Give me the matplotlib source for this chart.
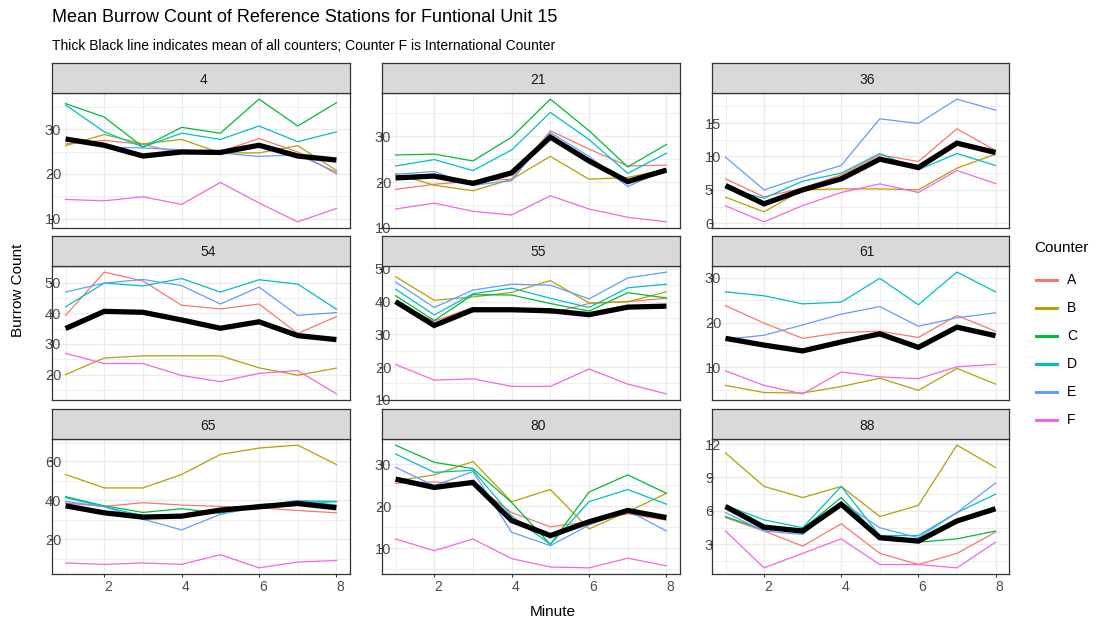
import numpy as np
import matplotlib
matplotlib.use("Agg")
import matplotlib.pyplot as plt
from matplotlib.lines import Line2D

plt.rcParams['font.family'] = ['Liberation Sans', 'DejaVu Sans']

nan = np.nan
minutes = [1, 2, 3, 4, 5, 6, 7, 8]
counters = ["A", "B", "C", "D", "E", "F"]
colors = ["#F8766D", "#B79F00", "#00BA38", "#00BFC4", "#619CFF", "#F564E3"]
stations = [4, 21, 36, 54, 55, 61, 65, 80, 88]

# ---- station 4
st4_A = [26.7, 27.5, 26.6, 24.6, 25.0, 27.9, 24.9, 20.0]
st4_B = [26.3, 28.8, 26.7, 27.7, 24.7, 24.7, 26.3, 20.8]
st4_C = [35.7, 32.7, 26.0, 30.4, 29.1, 36.7, 30.7, 35.9]
st4_D = [35.4, 29.4, 26.0, 29.1, 27.7, 30.7, 27.2, 29.4]
st4_E = [nan, 26.0, 25.8, 25.4, 24.7, 23.9, 24.3, 20.4]
st4_F = [14.3, 14.0, 14.9, 13.2, 18.1, 13.5, 9.3, 12.3]
st4_mean = [27.8, 26.4, 24.0, 24.9, 24.8, 26.4, 24.0, 23.1]
# ---- station 21
st21_A = [18.4, 19.5, 20.2, 20.6, 31.2, 27.2, 23.5, 23.7]
st21_B = [21.8, 19.3, 18.1, 20.6, 25.6, 20.6, 21.0, 22.8]
st21_C = [25.9, 26.1, 24.6, 29.8, 38.1, 31.2, 23.3, 28.2]
st21_D = [23.5, 24.9, 22.5, 27.0, 35.2, 29.3, 21.9, 26.3]
st21_E = [21.7, 22.3, 19.3, 20.3, 30.8, 25.6, 19.0, 22.8]
st21_F = [14.1, 15.4, 13.6, 12.8, 17.0, 14.1, 12.3, 11.3]
st21_mean = [20.9, 21.3, 19.7, 22.0, 29.8, 24.6, 20.1, 22.6]
# ---- station 36 (no counter C)
st36_A = [6.65, 3.95, 5.25, 7.25, 10.25, 9.25, 14.15, 10.9]
st36_B = [3.9, 1.7, 5.0, 5.15, 5.15, 5.0, 8.25, 10.35]
st36_C = [nan] * 8
st36_D = [5.25, 3.75, 6.3, 7.5, 10.45, 8.0, 10.45, 8.65]
st36_E = [9.9, 5.0, 6.9, 8.65, 15.65, 14.95, 18.6, 16.95]
st36_F = [2.6, 0.2, 2.65, 4.6, 5.9, 4.6, 7.9, 5.95]
st36_mean = [5.65, 2.9, 5.0, 6.65, 9.6, 8.35, 12.0, 10.6]
# ---- station 54 (no counter C)
st54_A = [39.3, 53.4, 50.5, 42.6, 41.4, 43.0, 33.4, 38.9]
st54_B = [20.0, 25.4, 26.1, 26.1, 26.1, 22.2, 19.8, 22.1]
st54_C = [nan] * 8
st54_D = [42.1, 49.8, 48.9, 51.3, 46.9, 50.9, 49.5, 41.3]
st54_E = [46.9, 49.8, 51.0, 49.0, 43.0, 48.5, 39.3, 40.2]
st54_F = [26.9, 23.6, 23.6, 19.7, 17.7, 20.4, 21.3, 13.7]
st54_mean = [35.0, 40.6, 40.3, 37.8, 35.1, 37.2, 32.7, 31.4]
# ---- station 55
st55_A = [39.5, 34.0, 38.2, 37.5, 36.4, 39.4, 40.0, 41.0]
st55_B = [47.6, 40.4, 41.4, 42.8, 46.4, 39.6, 39.9, 43.0]
st55_C = [41.8, 34.2, 42.1, 42.0, 39.4, 37.1, 42.7, 41.1]
st55_D = [43.8, 35.9, 42.4, 44.1, 41.0, 38.2, 44.2, 45.3]
st55_E = [46.0, 38.2, 43.5, 45.3, 45.0, 40.8, 47.2, 49.0]
st55_F = [20.8, 16.0, 16.4, 14.1, 14.1, 19.4, 14.8, 11.8]
st55_mean = [40.0, 32.7, 37.5, 37.5, 37.2, 36.0, 38.3, 38.6]
# ---- station 61 (no counter C)
st61_A = [23.8, 19.9, 16.5, 17.8, 18.1, 16.7, 21.6, 18.1]
st61_B = [6.0, 4.4, 4.3, 5.75, 7.6, 4.9, 9.8, 6.3]
st61_C = [nan] * 8
st61_D = [26.9, 26.0, 24.2, 24.6, 29.9, 24.0, 31.3, 26.9]
st61_E = [16.3, 17.2, 19.5, 21.9, 23.6, 19.2, 21.1, 22.2]
st61_F = [9.25, 6.0, 4.1, 9.0, 7.9, 7.5, 10.15, 10.7]
st61_mean = [16.5, 15.0, 13.7, 15.7, 17.5, 14.5, 19.0, 17.1]
# ---- station 65
st65_A = [38.6, 36.9, 38.8, 37.6, 36.9, 36.2, 34.8, 33.6]
st65_B = [53.3, 46.4, 46.4, 53.3, 63.6, 66.9, 68.4, 58.4]
st65_C = [41.9, 37.2, 33.8, 35.7, 33.4, 37.9, 38.8, 39.3]
st65_D = [41.4, 36.7, 32.1, 31.6, 34.1, 37.1, 39.8, 39.5]
st65_E = [39.5, 36.7, 30.3, 24.8, 32.8, 36.7, 40.0, 37.6]
st65_F = [7.8, 7.1, 7.8, 7.1, 12.1, 5.3, 8.3, 9.1]
st65_mean = [37.2, 33.6, 31.4, 31.9, 35.0, 36.7, 38.4, 36.2]
# ---- station 80
st80_A = [25.5, 25.8, 25.4, 18.5, 15.1, 16.3, 18.2, 16.7]
st80_B = [26.1, 27.5, 30.7, 21.1, 24.0, 14.6, 18.7, 23.1]
st80_C = [34.6, 30.5, 29.0, 20.9, 10.9, 23.4, 27.5, 23.1]
st80_D = [32.5, 28.1, 28.6, 17.7, 10.9, 21.1, 24.0, 20.5]
st80_E = [29.3, 24.9, 28.3, 13.8, 10.6, 15.5, 19.0, 14.1]
st80_F = [12.2, 9.4, 12.2, 7.5, 5.5, 5.3, 7.6, 5.8]
st80_mean = [26.5, 24.5, 25.7, 16.6, 13.0, 16.3, 19.0, 17.3]
# ---- station 88
st88_A = [5.4, 4.2, 2.85, 4.85, 2.2, 1.2, 2.2, 4.1]
st88_B = [11.2, 8.2, 7.2, 8.2, 5.5, 6.5, 11.9, 9.9]
st88_C = [5.5, 4.3, 4.4, 7.2, 3.65, 3.2, 3.5, 4.2]
st88_D = [6.5, 5.2, 4.5, 8.2, 3.8, 3.8, 5.85, 7.5]
st88_E = [5.85, 4.2, 3.9, 6.8, 4.5, 3.6, 5.85, 8.5]
st88_F = [4.2, 0.9, 2.2, 3.5, 1.2, 1.2, 0.9, 3.2]
st88_mean = [6.4, 4.55, 4.2, 6.6, 3.6, 3.3, 5.1, 6.2]

y_breaks = {
    4: [10, 20, 30], 21: [10, 20, 30], 36: [0, 5, 10, 15],
    54: [20, 30, 40, 50], 55: [10, 20, 30, 40, 50], 61: [10, 20, 30],
    65: [20, 40, 60], 80: [10, 20, 30], 88: [3, 6, 9, 12],
}
x_breaks = [2, 4, 6, 8]

g = globals()
series = {s: [g[f"st{s}_{c}"] for c in counters] for s in stations}
means = {s: g[f"st{s}_mean"] for s in stations}

W, H = 1101, 623
fig = plt.figure(figsize=(W / 100, H / 100), dpi=100)
fig.patch.set_facecolor("white")

cols_px = [(52, 350), (382, 680), (712, 1009)]
rows_px = [(63, 93, 228), (236, 266, 400), (409, 439, 574)]

border = "#333333"
grid_c = "#EBEBEB"

for idx, s in enumerate(stations):
    r, c = divmod(idx, 3)
    x0, x1 = cols_px[c]
    st_top, st_bot, p_bot = rows_px[r]
    ax = fig.add_axes([x0 / W, 1 - p_bot / H, (x1 - x0) / W, (p_bot - st_bot) / H])
    sax = fig.add_axes([x0 / W, 1 - st_bot / H, (x1 - x0) / W, (st_bot - st_top) / H])
    sax.set_facecolor("#D9D9D9")
    sax.set_xticks([]); sax.set_yticks([])
    for sp in sax.spines.values():
        sp.set_color(border); sp.set_linewidth(0.9)
    sax.text(0.497, 0.45, str(s), transform=sax.transAxes, ha="left", va="center",
             fontsize=10, color="#1A1A1A")

    allv = np.array([v for ser in series[s] for v in ser] + list(means[s]), dtype=float)
    lo, hi = np.nanmin(allv), np.nanmax(allv)
    pad = (hi - lo) * 0.05
    ax.set_xlim(1 - 0.35, 8 + 0.35)

    for ser, col in zip(series[s], colors):
        ax.plot(minutes, ser, color=col, lw=0.9, zorder=3)
    ax.plot(minutes, means[s], color="black", lw=3.8, zorder=4,
            solid_capstyle="butt", solid_joinstyle="miter")

    yb = y_breaks[s]
    ax.set_yticks(yb)
    step = yb[1] - yb[0]
    ax.set_yticks([b + step / 2 for b in [yb[0] - step] + yb], minor=True)
    ax.set_xticks(x_breaks)
    ax.set_xticks([1, 3, 5, 7], minor=True)
    ax.grid(True, which="major", color=grid_c, lw=1.0, zorder=0)
    ax.grid(True, which="minor", color=grid_c, lw=0.6, zorder=0)
    ax.set_axisbelow(True)
    ax.tick_params(which="minor", length=0)
    ax.tick_params(axis="y", which="major", length=2.5, color=border, labelsize=10.5,
                   labelcolor="#4D4D4D", pad=2.6)
    if r == 2:
        ax.tick_params(axis="x", which="major", length=2.5, color=border, labelsize=10,
                       labelcolor="#4D4D4D", pad=2)
    else:
        ax.tick_params(axis="x", which="major", length=0, labelbottom=False)
    ax.set_ylim(lo - pad, hi + pad)
    for sp in ax.spines.values():
        sp.set_color(border); sp.set_linewidth(0.9)
    for t in ax.yaxis.get_major_ticks():
        t.label1.set_horizontalalignment("left")
        t.label1.set_zorder(6)
    for t in ax.xaxis.get_major_ticks():
        t.label1.set_horizontalalignment("left")

fig.text(52 / W, 1 - 18 / H, "Mean Burrow Count of Reference Stations for Funtional Unit 15",
         ha="left", va="center", fontsize=13, color="black")
fig.text(52 / W, 1 - 46 / H,
         "Thick Black line indicates mean of all counters; Counter F is International Counter",
         ha="left", va="center", fontsize=10, color="black")
fig.text(18 / W, 1 - 337 / H, "Burrow Count", rotation=90, ha="center", va="bottom",
         fontsize=11, color="black")
fig.text(530 / W, 1 - 612 / H, "Minute", ha="left", va="center", fontsize=11, color="black")

# legend
fig.text(1034 / W, 1 - 248 / H, "Counter", ha="left", va="center", fontsize=11, color="black")
for i, (lab, col) in enumerate(zip(counters, colors)):
    yy = 1 - (280 + i * 28) / H
    fig.add_artist(Line2D([1036 / W, 1057 / W], [yy, yy], color=col, lw=2.2,
                          transform=fig.transFigure))
    fig.text(1067 / W, yy, lab, ha="left", va="center", fontsize=10, color="black")

fig.savefig("out.png", dpi=100)
